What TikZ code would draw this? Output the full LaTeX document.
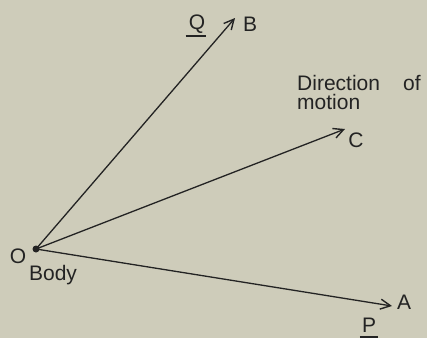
\documentclass[tikz,border=0pt]{standalone}
\usepackage{fontspec}
\setmainfont{Liberation Sans}
\usetikzlibrary{arrows.meta}
\definecolor{paper}{RGB}{206,204,186}
\definecolor{ink}{RGB}{35,35,35}
\begin{document}
\begin{tikzpicture}[x=1pt,y=-1pt,
  vec/.style={draw=ink,line width=1.3pt,-{Straight Barb[length=10pt,width=10pt,line width=1.4pt]}},
  lbl/.style={text=ink,font=\fontsize{21}{23}\selectfont,inner sep=0pt,anchor=base},
  ul/.style={draw=ink,line width=1.4pt}]
\fill[paper] (0,0) rectangle (427,338);
\useasboundingbox (0,0) rectangle (427,338);
\coordinate (O) at (36,249);
\coordinate (B) at (235,18);
\coordinate (C) at (345,129);
\coordinate (A) at (392,306);
\fill[ink] (O) circle (3.5pt);
\draw[vec] (O) -- (B);
\draw[vec] (O) -- (C);
\draw[vec] (O) -- (A);
\node[lbl] (lO) at (18,263) {O};
\node[lbl] (lBody) at (53,280) {Body};
\node[lbl] (lB) at (250,31) {B};
\node[lbl] (lQ) at (197,29) {Q};
\draw[ul] ([xshift=-3pt,yshift=-7pt]lQ.base west) -- ([xshift=1pt,yshift=-7pt]lQ.base east);
\node[lbl] (lC) at (356,147) {C};
\node[lbl] (lA) at (404,309) {A};
\node[lbl] (lP) at (369,332) {P};
\draw[ul] ([xshift=-2pt,yshift=-5pt]lP.base west) -- ([xshift=2pt,yshift=-5pt]lP.base east);
\node[lbl,anchor=base west] (lD) at (297,90) {Direction};
\node[lbl,anchor=base west] (lof) at (403,90) {of};
\node[lbl,anchor=base west] (lM) at (297,109) {motion};
\end{tikzpicture}
\end{document}
